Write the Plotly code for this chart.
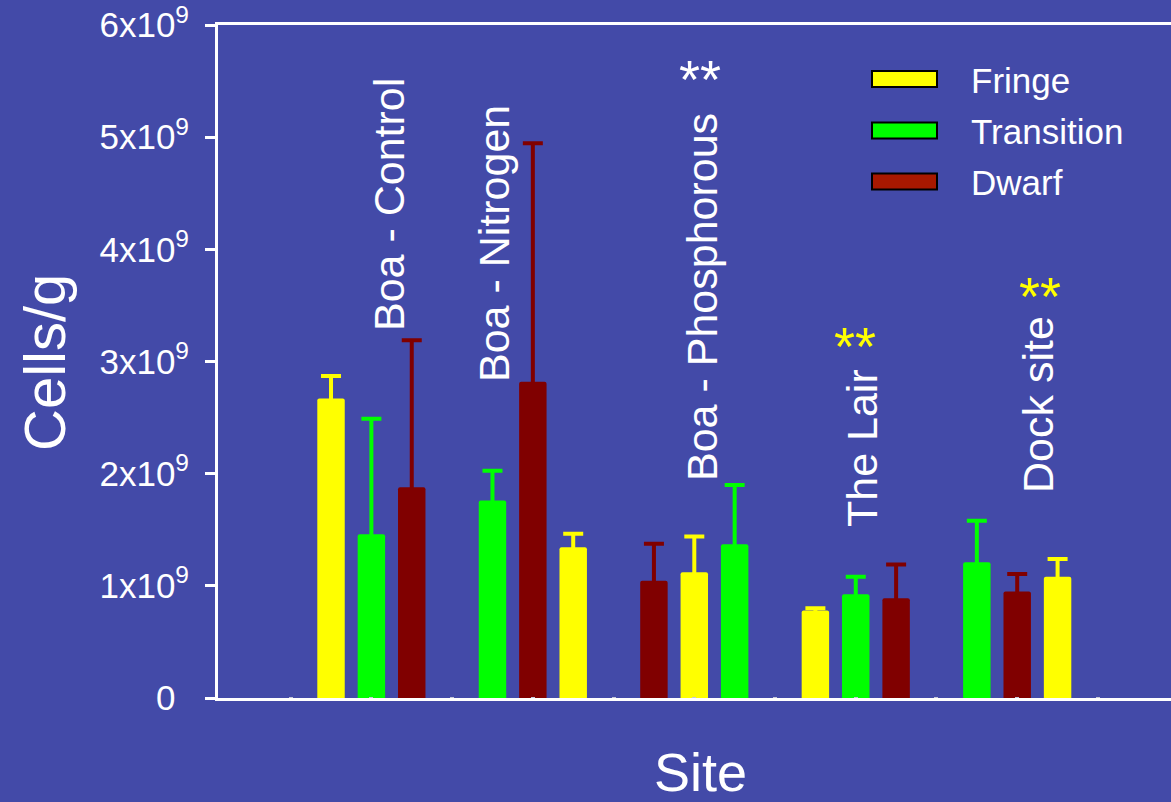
import plotly.graph_objects as go

# ---- data -------------------------------------------------------------
sites = ["Boa - Control", "Boa - Nitrogen", "Boa - Phosphorous", "The Lair", "Dock site"]
zones = ["Fringe", "Transition", "Dwarf"]

# order of the three zone bars inside each site group (left to right)
zone_order = [
    ["Fringe", "Transition", "Dwarf"],
    ["Transition", "Dwarf", "Fringe"],
    ["Dwarf", "Fringe", "Transition"],
    ["Fringe", "Transition", "Dwarf"],
    ["Transition", "Dwarf", "Fringe"],
]

# mean cell counts (cells/g) per site, and upper error
fringe_mean = [2.67e9, 1.345e9, 1.12e9, 0.78e9, 1.08e9]
fringe_err = [0.20e9, 0.12e9, 0.32e9, 0.02e9, 0.16e9]
transition_mean = [1.46e9, 1.76e9, 1.37e9, 0.925e9, 1.21e9]
transition_err = [1.03e9, 0.265e9, 0.53e9, 0.155e9, 0.37e9]
dwarf_mean = [1.88e9, 2.82e9, 1.045e9, 0.89e9, 0.95e9]
dwarf_err = [1.31e9, 2.125e9, 0.33e9, 0.30e9, 0.155e9]

y_tick_vals = [0, 1e9, 2e9, 3e9, 4e9, 5e9, 6e9]
y_tick_text = ["0<sup>&nbsp;&nbsp;</sup>", "1x10<sup>9</sup>", "2x10<sup>9</sup>", "3x10<sup>9</sup>",
               "4x10<sup>9</sup>", "5x10<sup>9</sup>", "6x10<sup>9</sup>"]

# significance marks: (text, colour, site index)
sig_marks = [("**", "white", 2), ("**", "#ffff00", 3), ("**", "#ffff00", 4)]

# ---- styling ------------------------------------------------------------
BG = "#434aa8"
FONT = "Liberation Sans, Arial, sans-serif"
bar_colors = {"Fringe": "#ffff00", "Transition": "#00ff00", "Dwarf": "#800000"}
swatch_colors = {"Fringe": "#ffff00", "Transition": "#00ff00", "Dwarf": "#a81800"}

means = {"Fringe": fringe_mean, "Transition": transition_mean, "Dwarf": dwarf_mean}
errs = {"Fringe": fringe_err, "Transition": transition_err, "Dwarf": dwarf_err}

# slot layout: each site occupies three bar slots followed by one empty slot
def slot(site_idx, zone):
    return 3 + 4 * site_idx + zone_order[site_idx].index(zone)

W, H = 1171, 802
L, R, T, B = 218, 1171, 25, 698

def px(x):
    return (x - L) / (R - L)

def py(y):
    return (B - y) / (B - T)

def label(text, x, y, size, color="white", angle=0, xanchor="center"):
    return dict(text=text, x=px(x), y=py(y), xref="paper", yref="paper",
                xanchor=xanchor, yanchor="middle", showarrow=False, textangle=angle,
                font=dict(family=FONT, size=size, color=color))

BAR_W = 0.68
# lower end of the whisker sits slightly inside the bar so its lower cap stays hidden
HIDE = 0.03e9

fig = go.Figure()

for zone in zones:
    xs = [slot(i, zone) for i in range(len(sites))]
    fig.add_trace(go.Bar(
        x=xs, y=means[zone], width=BAR_W,
        marker=dict(color=bar_colors[zone], opacity=0, line=dict(width=0)),
        error_y=dict(type="data", symmetric=False, array=errs[zone],
                     arrayminus=[HIDE] * len(sites), color=bar_colors[zone],
                     thickness=4, width=10),
        showlegend=False, hoverinfo="skip",
    ))

for zone in zones:
    xs = [slot(i, zone) for i in range(len(sites))]
    fig.add_trace(go.Bar(
        x=xs, y=means[zone], width=BAR_W, name=zone,
        marker=dict(color=bar_colors[zone], line=dict(width=0), cornerradius=2),
        showlegend=False,
    ))

annotations = []

# rotated site labels (pixel centres)
site_label_pos = [(389, 205), (494, 244), (702, 297), (862, 448), (1038, 405)]
for name, (x, y) in zip(sites, site_label_pos):
    annotations.append(label(name, x, y, 43, angle=-90))

sig_pos = {2: (700, 79), 3: (855, 346), 4: (1040, 296)}
for text, color, idx in sig_marks:
    x, y = sig_pos[idx]
    annotations.append(label(text, x, y, 54, color=color))

# axis titles
annotations.append(label("Cells/g", 44, 363, 58, angle=-90))
annotations.append(label("Site", 700, 772, 54))

# legend: swatches and labels
shapes = []
legend_rows = [("Fringe", 79), ("Transition", 130.5), ("Dwarf", 181.5)]
for zone, yc in legend_rows:
    shapes.append(dict(type="rect", xref="paper", yref="paper",
                       x0=px(872), x1=px(937), y0=py(yc - 8), y1=py(yc + 8),
                       fillcolor=swatch_colors[zone], line=dict(color="black", width=2)))
    annotations.append(label(zone, 969, yc + 1, 35, xanchor="left"))

fig.update_layout(
    width=W, height=H,
    margin=dict(l=L, r=W - R, t=T, b=H - B, pad=0),
    paper_bgcolor=BG, plot_bgcolor=BG,
    barmode="overlay",
    showlegend=False,
    annotations=annotations,
    shapes=shapes,
    font=dict(family=FONT, color="white"),
)

fig.update_xaxes(
    range=[0.2, 23.81], showgrid=False, zeroline=False,
    showline=True, linecolor="white", linewidth=3, mirror=True,
    tickvals=list(range(2, 24, 2)), ticks="inside", ticklen=1, tickwidth=4,
    tickcolor="#c4c6d8", showticklabels=False,
)
fig.update_yaxes(
    range=[0, 6e9], showgrid=False, zeroline=False,
    showline=True, linecolor="white", linewidth=3, mirror=False,
    tickvals=y_tick_vals, ticktext=y_tick_text,
    ticks="outside", ticklen=10, tickwidth=3, tickcolor="white",
    ticklabelstandoff=9,
    tickfont=dict(family=FONT, size=35, color="white"),
)

fig.write_html("out.html")
